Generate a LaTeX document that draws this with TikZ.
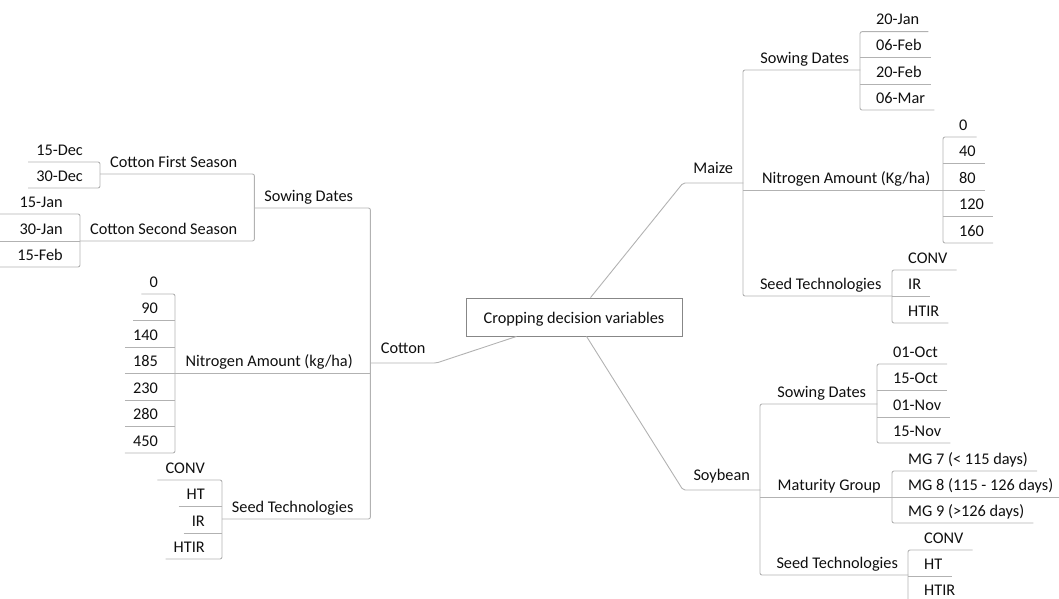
\documentclass[tikz,border=0pt]{standalone}
\usepackage{fontspec}
\setmainfont{Carlito}
\definecolor{lnC}{RGB}{178,178,178}
\definecolor{bxC}{RGB}{135,135,135}
\definecolor{txC}{RGB}{15,15,15}
\begin{document}
\begin{tikzpicture}[x=1pt,y=-1pt,
  every node/.style={font=\fontsize{16.3}{18}\selectfont, text=txC, inner sep=0pt, text height=11pt, text depth=6.6pt},
  rleaf/.style={anchor=south west, execute at begin node={\hspace*{16pt}}, execute at end node={\hspace*{9pt}}},
  lleaf/.style={anchor=south east, execute at begin node={\hspace*{8pt}}, execute at end node={\hspace*{17pt}}},
  rmid/.style={anchor=south west, minimum width=#1, execute at begin node={\hspace*{6pt}}},
  lmid/.style={anchor=south west, minimum width=#1, execute at end node={\hspace*{7pt}}},
  crop/.style={anchor=south west, minimum width=#1, text depth=9.5pt},
  ln/.style={draw=lnC, line width=0.9pt, rounded corners=2pt},
]
\useasboundingbox (0,0) rectangle (1059,599);
\clip (0,0) rectangle (1059,599);

% root
\node[draw=bxC, line width=0.9pt, minimum width=216, minimum height=38, text height=15pt, text depth=3pt] (root) at (574,317) {Cropping decision variables};

% crops
\node[crop=66] (cot) at (370,363) {Cotton};
\node[crop=60] (mz) at (683,183) {Maize};
\node[crop=77] (sb) at (683,490) {Soybean};

% ---------- Cotton ----------
\node[lmid=116] (csd) at (254,208) {Sowing Dates};
\node[lmid=195] (cna) at (175,373.5) {Nitrogen Amount (kg/ha)};
\node[lmid=148] (cst) at (222,519) {Seed Technologies};

\node[lmid=154] (cfs) at (100,174) {Cotton First Season};
\node[lmid=174] (css) at (80,241) {Cotton Second Season};

\node[lleaf] (d15) at (100,162) {15-Dec};
\node[lleaf] (d30) at (100,188) {30-Dec};

\node[lleaf] (j15) at (80,214) {\makebox[63pt][r]{15-Jan}};
\node[lleaf] (j30) at (80,241) {\makebox[63pt][r]{30-Jan}};
\node[lleaf] (f15) at (80,267) {\makebox[63pt][r]{15-Feb}};

\node[lleaf] (n0) at (175,294) {0};
\node[lleaf] (n90) at (175,320.5) {90};
\node[lleaf] (n140) at (175,347) {140};
\node[lleaf] (n185) at (175,373.5) {185};
\node[lleaf] (n230) at (175,400) {230};
\node[lleaf] (n280) at (175,426.5) {280};
\node[lleaf] (n450) at (175,453) {450};

\node[lleaf] (cconv) at (222,480) {CONV};
\node[lleaf] (cht) at (222,506.5) {HT};
\node[lleaf] (cir) at (222,533) {IR};
\node[lleaf] (chtir) at (222,559) {HTIR};

% ---------- Maize ----------
\node[rmid=117] (msd) at (743,70) {Sowing Dates};
\node[rmid=200] (mna) at (743,190) {Nitrogen Amount (Kg/ha)};
\node[rmid=149] (mst) at (743,296) {Seed Technologies};

\node[rleaf] (m1) at (860,31.7) {20-Jan};
\node[rleaf] (m2) at (860,57.8) {06-Feb};
\node[rleaf] (m3) at (860,84) {20-Feb};
\node[rleaf] (m4) at (860,110) {06-Mar};

\node[rleaf] (k0) at (943,137) {0};
\node[rleaf] (k40) at (943,163.5) {40};
\node[rleaf] (k80) at (943,190) {80};
\node[rleaf] (k120) at (943,216.5) {120};
\node[rleaf] (k160) at (943,243) {160};

\node[rleaf] (mconv) at (892,270) {CONV};
\node[rleaf] (mir) at (892,296) {IR};
\node[rleaf] (mhtir) at (892,323) {HTIR};

% ---------- Soybean ----------
\node[rmid=117] (ssd) at (760,404) {Sowing Dates};
\node[rmid=132] (smg) at (760,497) {Maturity Group};
\node[rmid=148] (sst) at (760,575) {Seed Technologies};

\node[rleaf] (o1) at (877,364) {01-Oct};
\node[rleaf] (o15) at (877,390.5) {15-Oct};
\node[rleaf] (v1) at (877,417) {01-Nov};
\node[rleaf] (v15) at (877,443) {15-Nov};

\node[rleaf] (g7) at (892,471) {MG 7 (< 115 days)};
\node[rleaf] (g8) at (892,497) {MG 8 (115 - 126 days)};
\node[rleaf] (g9) at (892,523) {MG 9 (>126 days)};

\node[rleaf] (sconv) at (908,550) {CONV};
\node[rleaf] (sht) at (908,576) {HT};
\node[rleaf] (shtir) at (908,602) {HTIR};

% ---------- connectors ----------
\draw[ln] (cot.south west) -- (cot.south east) -- ([xshift=51pt]root.south west);
\draw[ln] (mz.south east) -- (mz.south west) -- ([xshift=125pt]root.north west);
\draw[ln] (sb.south east) -- (sb.south west) -- ([xshift=121pt]root.south west);

% cotton
\draw[ln] (csd.south west) -- (csd.south east) -- (cst.south east) -- (cst.south west);
\draw[ln] (cna.south west) -- (cna.south east);
\draw[ln] (cfs.south west) -- (cfs.south east) -- (css.south east) -- (css.south west);
\draw[ln] (d15.south west) -- (d15.south east) -- (d30.south east) -- (d30.south west);
\draw[ln] (j15.south west) -- (j15.south east) -- (f15.south east) -- (f15.south west);
\draw[ln] (j30.south west) -- (j30.south east);
\draw[ln] (n0.south west) -- (n0.south east) -- (n450.south east) -- (n450.south west);
\foreach \n in {n90,n140,n185,n230,n280} \draw[ln] (\n.south west) -- (\n.south east);
\draw[ln] (cconv.south west) -- (cconv.south east) -- (chtir.south east) -- (chtir.south west);
\foreach \n in {cht,cir} \draw[ln] (\n.south west) -- (\n.south east);

% maize
\draw[ln] (msd.south east) -- (msd.south west) -- (mst.south west) -- (mst.south east);
\draw[ln] (mna.south west) -- (mna.south east);
\draw[ln] (m1.south east) -- (m1.south west) -- (m4.south west) -- (m4.south east);
\foreach \n in {m2,m3} \draw[ln] (\n.south west) -- (\n.south east);
\draw[ln] (k0.south east) -- (k0.south west) -- (k160.south west) -- (k160.south east);
\foreach \n in {k40,k80,k120} \draw[ln] (\n.south west) -- (\n.south east);
\draw[ln] (mconv.south east) -- (mconv.south west) -- (mhtir.south west) -- (mhtir.south east);
\draw[ln] (mir.south west) -- (mir.south east);

% soybean
\draw[ln] (ssd.south east) -- (ssd.south west) -- (sst.south west) -- (sst.south east);
\draw[ln] (smg.south west) -- (smg.south east);
\draw[ln] (o1.south east) -- (o1.south west) -- (v15.south west) -- (v15.south east);
\foreach \n in {o15,v1} \draw[ln] (\n.south west) -- (\n.south east);
\draw[ln] (g7.south east) -- (g7.south west) -- (g9.south west) -- (g9.south east);
\draw[ln] (g8.south west) -- (g8.south east);
\draw[ln] (sconv.south east) -- (sconv.south west) -- (shtir.south west) -- (shtir.south east);
\draw[ln] (sht.south west) -- (sht.south east);
\end{tikzpicture}
\end{document}
